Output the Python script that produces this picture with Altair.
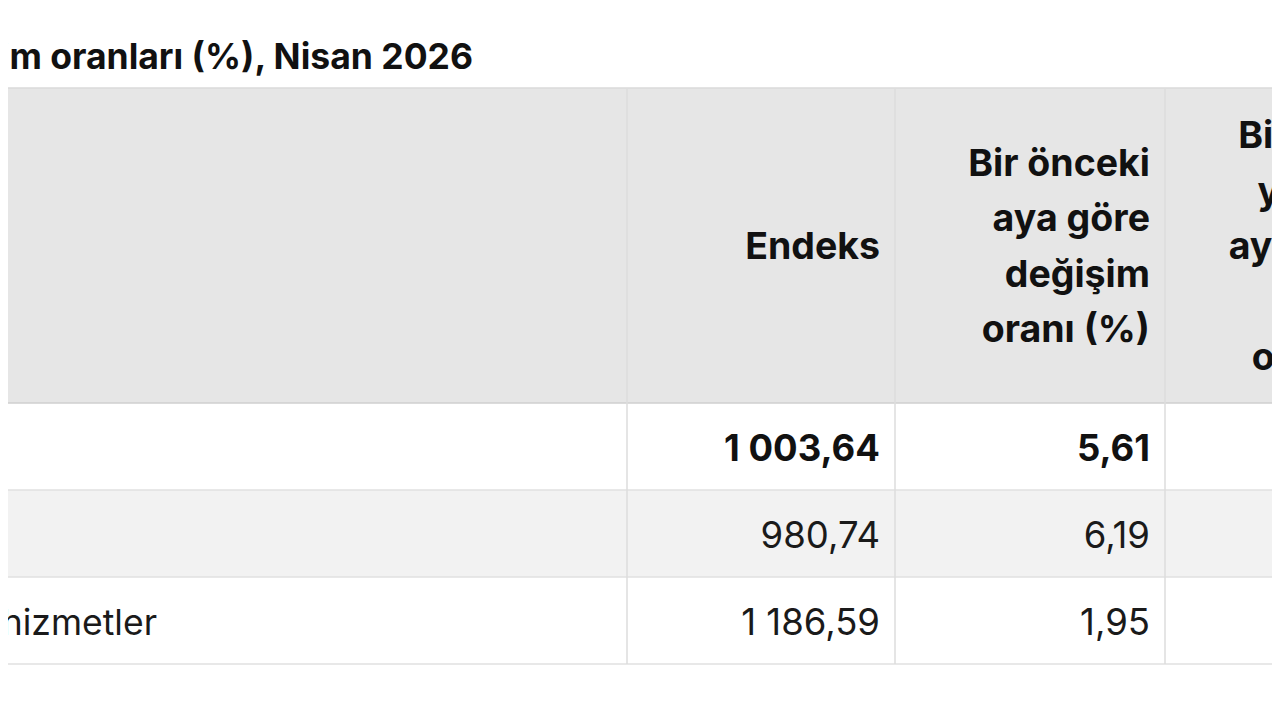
import altair as alt
import pandas as pd

# ---- data ----
title_text = "değişim oranları (%), Nisan 2026"
col_headers = ["Endeks", "Bir önceki\naya göre\ndeğişim\noranı (%)",
               "Bir önceki\nyılın aynı\nayına göre\ndeğişim\noranı (%)"]
row_labels = ["", "", "hizmetler"]
endeks = ["1 003,64", "980,74", "1 186,59"]
aylik = ["5,61", "6,19", "1,95"]
row_bold = [True, False, False]

# ---- layout (reference pixel grid) ----
M = 8
W, H = 1272, 712
col_edges = [-400, 627, 895, 1165, 1435]
header_top, header_bottom = 88, 403
row_h = 87
pad_r = 15
label_end = 157
line_h = 55.5
header_mid = 248
body_dy = 3

rows_top = [header_bottom + i * row_h for i in range(len(endeks))]

xs = alt.Scale(domain=[M, W], range=[0, W - M])
ys = alt.Scale(domain=[M, H], range=[0, H - M])
X = lambda f="x:Q": alt.X(f, scale=xs, axis=None)
Y = lambda f="y:Q": alt.Y(f, scale=ys, axis=None)

# backgrounds
bg = pd.DataFrame({
    "x": [col_edges[0]] * (1 + len(endeks)),
    "x2": [col_edges[-1]] * (1 + len(endeks)),
    "y": [header_top] + rows_top,
    "y2": [header_bottom] + [t + row_h for t in rows_top],
    "fill": ["#e6e6e6"] + ["#ffffff" if i % 2 == 0 else "#f2f2f2" for i in range(len(endeks))],
})
bg_layer = alt.Chart(bg).mark_rect().encode(
    x=X(), x2="x2:Q", y=Y(), y2="y2:Q", color=alt.Color("fill:N", scale=None),
)

# horizontal lines
hl = pd.DataFrame({
    "y": [header_top, header_bottom] + [t + row_h for t in rows_top],
    "c": ["#dadada", "#cfcfcf"] + ["#e0e0e0"] * len(rows_top),
    "x": [col_edges[0]] * (2 + len(rows_top)),
    "x2": [col_edges[-1]] * (2 + len(rows_top)),
})
hl_layer = alt.Chart(hl).mark_rule(strokeWidth=1.5).encode(
    x=X(), x2="x2:Q", y=Y(), color=alt.Color("c:N", scale=None),
)

# vertical lines
vl = pd.DataFrame({
    "x": col_edges[1:4],
    "y": [header_top] * 3,
    "y2": [rows_top[-1] + row_h] * 3,
})
vl_layer = alt.Chart(vl).mark_rule(strokeWidth=1.5, color="#dcdcdc").encode(
    x=X(), y=Y(), y2="y2:Q",
)

# header texts (multi-line, vertically centred)
hdr = pd.DataFrame({
    "t": col_headers,
    "x": [e - pad_r for e in col_edges[2:5]],
    "y": [header_mid - (len(t.split("\n")) - 1) * line_h / 2 for t in col_headers],
})
hdr_layer = alt.Chart(hdr).mark_text(
    font="Inter", fontWeight="bold", fontSize=37.5, align="right", baseline="middle",
    lineBreak="\n", lineHeight=line_h, color="#111111",
).encode(x=X(), y=Y(), text="t:N")

# body cells
cells = []
for i in range(len(endeks)):
    yc = rows_top[i] + row_h / 2 + body_dy
    cells.append({"t": endeks[i], "x": col_edges[2] - pad_r, "y": yc, "b": row_bold[i]})
    cells.append({"t": aylik[i], "x": col_edges[3] - pad_r, "y": yc, "b": row_bold[i]})
cells = pd.DataFrame(cells)

body_norm = alt.Chart(cells[~cells.b]).mark_text(
    font="Inter", fontSize=36.5, align="right", baseline="middle", color="#1a1a1a",
).encode(x=X(), y=Y(), text="t:N")

body_bold = alt.Chart(cells[cells.b]).mark_text(
    font="Inter", fontSize=36.5, fontWeight="bold", align="right", baseline="middle", color="#111111",
).encode(x=X(), y=Y(), text="t:N")

lab = pd.DataFrame({
    "t": row_labels,
    "x": [label_end] * len(row_labels),
    "y": [t + row_h / 2 + body_dy for t in rows_top],
})
lab_layer = alt.Chart(lab).mark_text(
    font="Inter", fontSize=35.5, align="right", baseline="middle", color="#1a1a1a",
).encode(x=X(), y=Y(), text="t:N")

title_df = pd.DataFrame({"t": [title_text], "x": [473], "y": [69]})
title_layer = alt.Chart(title_df).mark_text(
    font="Inter", fontWeight="bold", fontSize=35.5, align="right", baseline="alphabetic", color="#111111",
).encode(x=X(), y=Y(), text="t:N")

chart = alt.layer(
    bg_layer, hl_layer, vl_layer, hdr_layer, body_norm, body_bold, lab_layer, title_layer
).properties(
    width=W - M, height=H - M, autosize=alt.AutoSizeParams(type="none"), padding=0,
    background="#ffffff",
).configure_view(stroke=None)

chart.save("out.html", embed_options={"renderer": "svg", "actions": False})
